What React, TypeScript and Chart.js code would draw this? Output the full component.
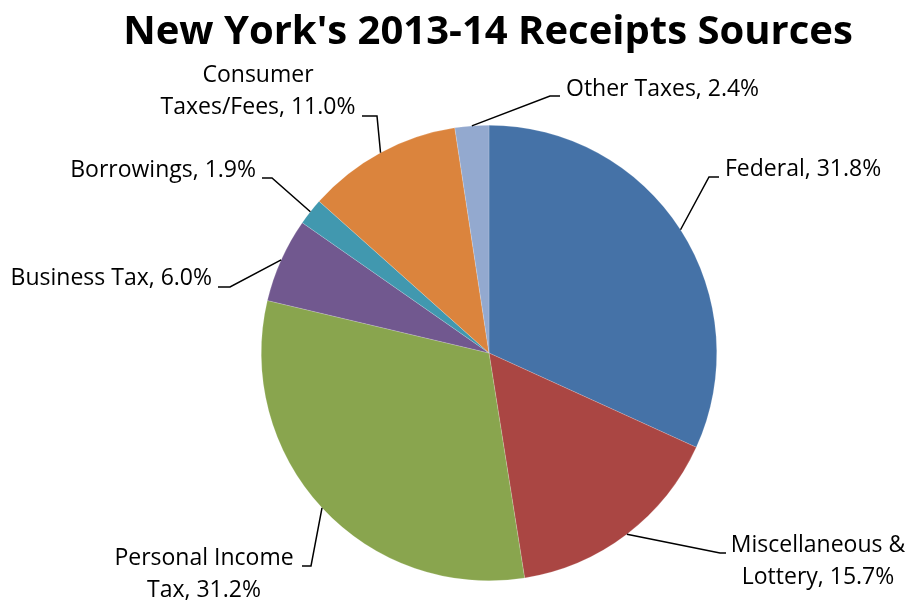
import React, { useEffect, useRef } from "react";
import { Chart, registerables } from "chart.js";

Chart.register(...registerables);

const title = "New York's 2013-14 Receipts Sources";
const categories = [
  "Federal",
  "Miscellaneous & Lottery",
  "Personal Income Tax",
  "Business Tax",
  "Borrowings",
  "Consumer Taxes/Fees",
  "Other Taxes",
];
const shares = [31.8, 15.7, 31.2, 6.0, 1.9, 11.0, 2.4];
const labelLines = [
  ["Federal, 31.8%"],
  ["Miscellaneous &", "Lottery, 15.7%"],
  ["Personal Income", "Tax, 31.2%"],
  ["Business Tax, 6.0%"],
  ["Borrowings, 1.9%"],
  ["Consumer", "Taxes/Fees, 11.0%"],
  ["Other Taxes, 2.4%"],
];
const colors = ["#4572A7", "#AA4643", "#89A54E", "#71588F", "#4198AF", "#DB843D", "#93A9CF"];

// label layout: bend point, end of leader, text block x, first line middle y, alignment
const labelLayout = [
  { bend: [709, 177], end: [719, 177], tx: 725, ty: 169, align: "left" },
  { bend: [720, 553], end: [726, 553], tx: 818, ty: 545, align: "center" },
  { bend: [311, 566], end: [302, 566], tx: 204, ty: 558, align: "center" },
  { bend: [230, 287], end: [218, 287], tx: 212, ty: 278, align: "right" },
  { bend: [272, 178], end: [262, 178], tx: 256, ty: 170, align: "right" },
  { bend: [377, 116], end: [362, 116], tx: 258, ty: 75, align: "center" },
  { bend: [550, 96], end: [560, 96], tx: 566, ty: 89, align: "left" },
];

const FONT = "'Open Sans', Lato, sans-serif";

const labelPlugin = {
  id: "pieLabels",
  afterDraw(chart: any) {
    const ctx = chart.ctx;
    const meta = chart.getDatasetMeta(0);
    ctx.save();
    ctx.fillStyle = "#000";
    ctx.font = `bold 40px ${FONT}`;
    ctx.textAlign = "center";
    ctx.textBaseline = "alphabetic";
    ctx.fillText(title, 488, 44);

    ctx.font = `23px ${FONT}`;
    ctx.strokeStyle = "#000";
    ctx.lineWidth = 1.5;
    meta.data.forEach((arc: any, i: number) => {
      const p = arc.getProps(["x", "y", "startAngle", "endAngle", "outerRadius"], true);
      const mid = (p.startAngle + p.endAngle) / 2;
      const ax = p.x + Math.cos(mid) * p.outerRadius;
      const ay = p.y + Math.sin(mid) * p.outerRadius;
      const L = labelLayout[i];
      ctx.beginPath();
      ctx.moveTo(ax, ay);
      ctx.lineTo(L.bend[0], L.bend[1]);
      ctx.lineTo(L.end[0], L.end[1]);
      ctx.stroke();
      ctx.textAlign = L.align;
      ctx.textBaseline = "middle";
      labelLines[i].forEach((line, j) => {
        ctx.fillText(line, L.tx, L.ty + j * 32);
      });
    });
    ctx.restore();
  },
};

export default function App() {
  const ref = useRef<HTMLCanvasElement>(null);
  useEffect(() => {
    document.body.style.margin = "0";
    const chart = new Chart(ref.current!, {
      type: "pie",
      data: {
        labels: categories,
        datasets: [
          {
            data: shares,
            backgroundColor: colors,
            borderColor: "rgba(255,255,255,0.35)",
            borderWidth: 0.5,
          },
        ],
      },
      options: {
        responsive: false,
        animation: false,
        layout: { padding: { top: 125, bottom: 23, left: 261, right: 192 } },
        plugins: {
          legend: { display: false },
          title: { display: false },
          tooltip: { enabled: false },
        },
      },
      plugins: [labelPlugin],
    });
    return () => chart.destroy();
  }, []);
  return (
    <div style={{ position: "fixed", left: 0, top: 0, width: 909, height: 604, background: "#fff" }}>
      <canvas ref={ref} width={909} height={604} />
    </div>
  );
}
